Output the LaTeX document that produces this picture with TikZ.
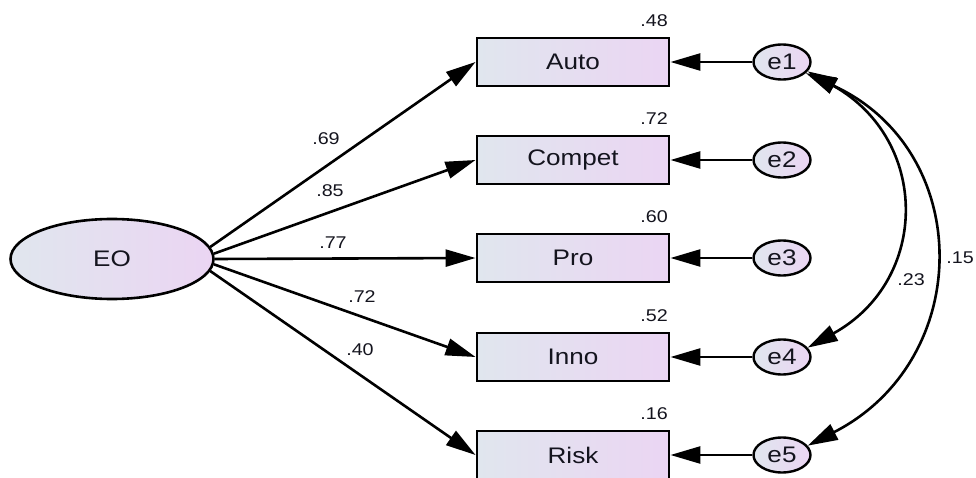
\documentclass[tikz,border=0pt]{standalone}
\usepackage{fontspec}
\setmainfont{Liberation Sans}[FakeStretch=1.16]
\usetikzlibrary{arrows.meta,shapes.geometric}
\definecolor{fillL}{RGB}{224,230,238}
\definecolor{fillR}{RGB}{235,213,243}
\definecolor{txt}{RGB}{20,20,30}
\begin{document}
\begin{tikzpicture}[x=1pt,y=-1pt,
  obsbox/.style={rectangle, draw, line width=2.9pt, minimum width=192pt, minimum height=48pt,
    inner sep=0pt, left color=fillL, right color=fillR, text=txt, font=\fontsize{22.5}{24}\selectfont},
  errnode/.style={ellipse, draw, line width=2.4pt, minimum width=57pt, minimum height=35pt,
    inner sep=0pt, left color=fillL, right color=fillR, text=txt, font=\fontsize{22.5}{24}\selectfont},
  latnode/.style={ellipse, draw, line width=2.6pt, minimum width=203pt, minimum height=80pt,
    inner sep=0pt, left color=fillL, right color=fillR, text=txt, font=\fontsize{22.5}{24}\selectfont},
  regpath/.style={-{Triangle[length=30pt,width=17pt]}, line width=2.6pt},
  covpath/.style={{Triangle[length=30pt,width=17pt]}-{Triangle[length=30pt,width=17pt]}, line width=2.6pt},
  coef/.style={inner sep=0pt, text=txt, font=\fontsize{17}{19}\selectfont}]
\useasboundingbox (0,0) rectangle (976,478);

% latent factor
\node[latnode] (EO) at (112,259) {EO};

% observed indicators
\node[obsbox] (auto)   at (573,62)  {Auto};
\node[obsbox] (compet) at (573,160) {Compet};
\node[obsbox] (pro)    at (573,258) {Pro};
\node[obsbox] (inno)   at (573,357) {Inno};
\node[obsbox] (risk)   at (573,455) {Risk};

% error terms
\node[errnode] (e1) at (782,62)  {e1};
\node[errnode] (e2) at (782,160) {e2};
\node[errnode] (e3) at (782,258) {e3};
\node[errnode] (e4) at (782,357) {e4};
\node[errnode] (e5) at (782,455) {e5};

% squared multiple correlations
\node[coef, anchor=east] (r1) at (668,21)  {.48};
\node[coef, anchor=east] (r2) at (668,119) {.72};
\node[coef, anchor=east] (r3) at (668,217) {.60};
\node[coef, anchor=east] (r4) at (668,316) {.52};
\node[coef, anchor=east] (r5) at (668,414) {.16};

% factor loadings
\draw[regpath] (EO.7)    -- (auto.west);
\draw[regpath] (EO.3.5)  -- (compet.west);
\draw[regpath] (EO.0)    -- (pro.west);
\draw[regpath] (EO.-3.5) -- (inno.west);
\draw[regpath] (EO.-7)   -- (risk.west);

\node[coef] (l1) at (326,139) {.69};
\node[coef] (l2) at (330,191) {.85};
\node[coef] (l3) at (333,243) {.77};
\node[coef] (l4) at (362,297) {.72};
\node[coef] (l5) at (360,350) {.40};

% error paths
\draw[regpath] (e1.west) -- (auto.east);
\draw[regpath] (e2.west) -- (compet.east);
\draw[regpath] (e3.west) -- (pro.east);
\draw[regpath] (e4.west) -- (inno.east);
\draw[regpath] (e5.west) -- (risk.east);

% error covariances
\draw[covpath] (e1.-20) .. controls (930,140) and (930,280) .. (e4.20);
\draw[covpath] (e1.-25) .. controls (975,150) and (975,360) .. (e5.20);
\node[coef] (c14) at (911,280) {.23};
\node[coef] (c15) at (960,258) {.15};
\end{tikzpicture}
\end{document}
